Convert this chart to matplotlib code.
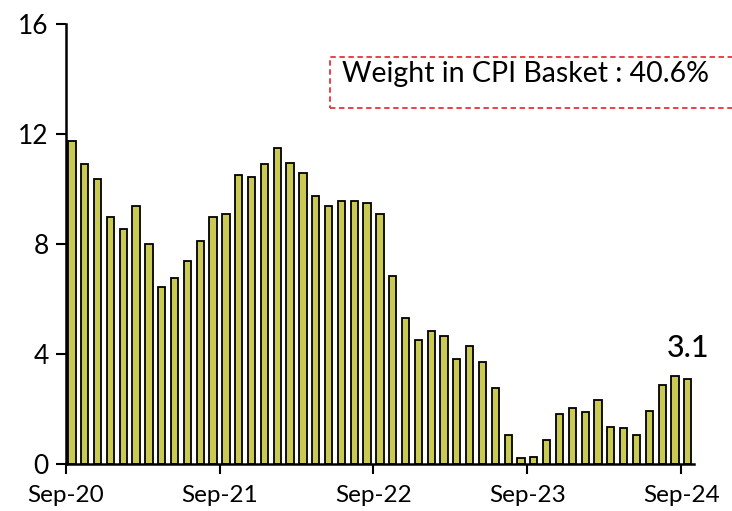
import matplotlib
matplotlib.use("Agg")
import matplotlib.pyplot as plt
from matplotlib.patches import Rectangle

plt.rcParams['font.family'] = ['Lato', 'DejaVu Sans']

# Monthly values, Sep-20 .. Sep-24
values = [11.75, 10.9, 10.35, 9.0, 8.55, 9.4, 8.0, 6.45, 6.75, 7.4, 8.1, 9.0,
          9.1, 10.5, 10.45, 10.9, 11.5, 10.95, 10.6, 9.75, 9.4, 9.55, 9.55, 9.5,
          9.1, 6.85, 5.3, 4.5, 4.85, 4.65, 3.8, 4.3, 3.7, 2.75, 1.05, 0.23,
          0.27, 0.87, 1.8, 2.05, 1.88, 2.32, 1.36, 1.3, 1.04, 1.94, 2.86, 3.2, 3.1]
tick_labels = ["Sep-20", "Sep-21", "Sep-22", "Sep-23", "Sep-24"]
y_ticks = [0, 4, 8, 12, 16]
last_label = "3.1"
box_text = "Weight in CPI Basket : 40.6%"

fig = plt.figure(figsize=(7.32, 5.11), dpi=100)
ax = fig.add_axes([0.0895, 0.092, 0.859, 0.861])

x = list(range(len(values)))
ax.bar(x, values, width=0.56, color="#CACA52", edgecolor="black", linewidth=1.3)

ax.set_xlim(-0.5, len(values) - 0.5)
ax.set_ylim(0, 16)
ax.set_xticks([i * 12 - 0.5 for i in range(len(tick_labels))])
ax.set_xticklabels(tick_labels, fontsize=17.5)
ax.set_yticks(y_ticks)
ax.set_yticklabels([str(v) for v in y_ticks], fontsize=19)
ax.tick_params(axis="x", direction="out", length=7, width=1.5, pad=8)
ax.tick_params(axis="y", direction="out", length=7, width=1.5, pad=5)

for s in ["top", "right"]:
    ax.spines[s].set_visible(False)
for s in ["left", "bottom"]:
    ax.spines[s].set_linewidth(1.8)

ax.text(len(values) - 1, values[-1] + 0.6, last_label, ha="center", va="bottom",
        fontsize=22, fontweight="medium")

# dashed box with the weight note
box = Rectangle((0.451, 0.789), 0.56, 0.1, transform=fig.transFigure,
                fill=False, edgecolor="#E8323C", linestyle=(0, (3, 2)), linewidth=1.3)
fig.patches.append(box)
fig.text(0.467, 0.855, box_text, fontsize=20.5, va="center", ha="left")

plt.savefig("out.png", dpi=100)
